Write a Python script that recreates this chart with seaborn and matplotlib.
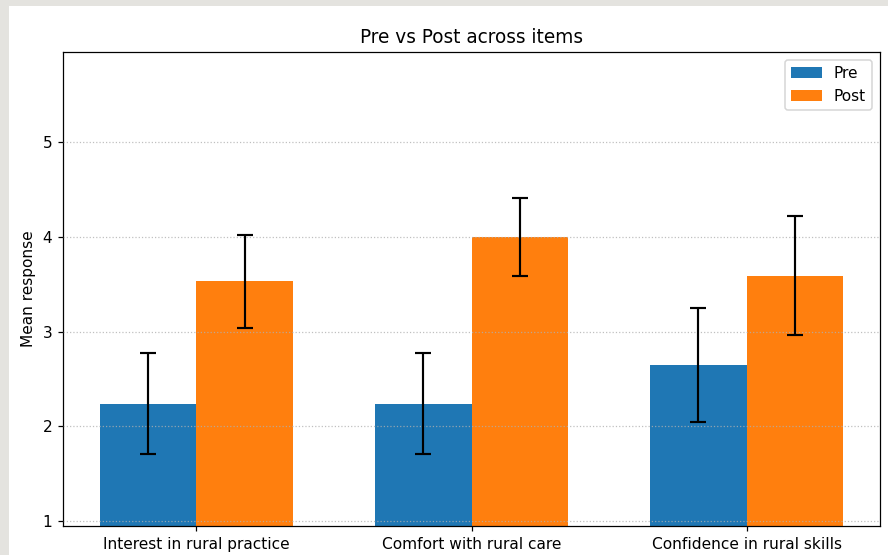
import matplotlib
matplotlib.use("Agg")
import matplotlib.pyplot as plt
from matplotlib.patches import Rectangle
import numpy as np
import pandas as pd
import seaborn as sns

items = ["Interest in rural practice", "Comfort with rural care", "Confidence in rural skills"]
pre_mean = [2.24, 2.24, 2.65]
pre_err = [0.53, 0.53, 0.60]
post_mean = [3.53, 4.00, 3.59]
post_err = [0.49, 0.41, 0.63]
phases = ["Pre", "Post"]
colors = ["#1f77b4", "#ff7f0e"]

df = pd.DataFrame({
    "item": items * 2,
    "phase": ["Pre"] * len(items) + ["Post"] * len(items),
    "mean": pre_mean + post_mean,
    "err": pre_err + post_err,
})

DPI = 111
W, H = 888, 555
fig = plt.figure(figsize=(W / DPI, H / DPI), dpi=DPI)
fig.patch.set_facecolor("#e4e3df")
fig.patches.append(Rectangle((9 / W, 0), 1 - 9 / W, 1 - 6 / H,
                             transform=fig.transFigure, facecolor="white",
                             edgecolor="none", zorder=-10))

ax = fig.add_axes([63 / W, (H - 526) / H, 817 / W, 474 / H])
sns.barplot(data=df, x="item", y="mean", hue="phase", hue_order=phases,
            order=items, palette=colors, saturation=1, width=0.7,
            errorbar=None, ax=ax, linewidth=0)

# error bars at the centre of each bar
for phase, means, errs in [("Pre", pre_mean, pre_err), ("Post", post_mean, post_err)]:
    offset = -0.175 if phase == "Pre" else 0.175
    xs = np.arange(len(items)) + offset
    ax.errorbar(xs, means, yerr=errs, fmt="none", ecolor="black",
                elinewidth=1.4, capsize=5, capthick=1.4, zorder=3)

ax.set_xlim(-0.485, 2.485)
ax.set_ylim(0.95, 5.95)
ax.set_yticks([1, 2, 3, 4, 5])
ax.set_xlabel("")
ax.set_ylabel("Mean response")
ax.set_title("Pre vs Post across items")
ax.set_axisbelow(False)
ax.grid(axis="y", linestyle=":", color="#b0b0b0", linewidth=0.8, alpha=0.8)
ax.legend(loc="upper right", title=None)

fig.savefig("out.png", dpi=DPI, facecolor=fig.get_facecolor())
